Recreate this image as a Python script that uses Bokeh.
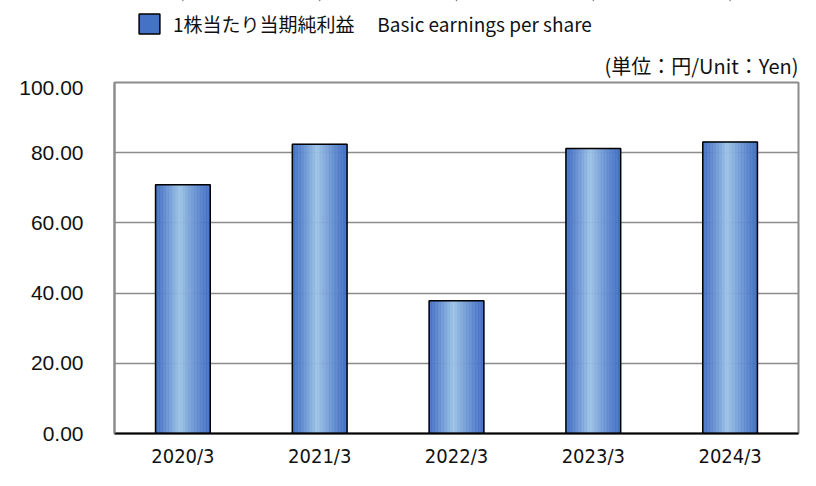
from bokeh.plotting import figure
from bokeh.layouts import column
from bokeh.models import (ColumnDataSource, FactorRange, Range1d, FixedTicker,
                          NumeralTickFormatter, Legend, LegendItem, Label)
from bokeh.transform import dodge
from bokeh.embed import file_html
from bokeh.resources import INLINE

# ---- data ----
categories = ["2020/3", "2021/3", "2022/3", "2023/3", "2024/3"]
eps_values = [70.85, 82.40, 37.80, 81.20, 83.05]
y_ticks = [0, 20, 40, 60, 80, 100]
legend_label = "1株当たり当期純利益\u2002\u2002\u2009Basic earnings per share"
unit_label = "(単位：円/Unit：Yen)"

src = ColumnDataSource(dict(cat=categories, val=eps_values))

W = 800
HEAD_H = 80
MAIN_H = 390
FRAME_L = 114
FRAME_R = 2

xr = FactorRange(*categories)

# ---- header figure (legend + unit), frame aligned with the chart below ----
head = figure(width=W, height=HEAD_H, x_range=xr, y_range=Range1d(-1000, -900),
              output_backend="svg", toolbar_location=None,
              x_axis_type=None, y_axis_type=None,
              min_border_left=FRAME_L, min_border_right=FRAME_R,
              min_border_top=0, min_border_bottom=0)
head.outline_line_color = None
head.xgrid.grid_line_color = None
head.ygrid.grid_line_color = None
head.background_fill_color = "white"
head.border_fill_color = "white"

# legend swatch renderer (hair-thin bars far outside this header's visible range)
swatch = head.vbar(x="cat", top="val", bottom="val", width=0.0005, source=src,
                   fill_color="#4472C4", line_color="black", line_width=1.5)
legend = Legend(items=[LegendItem(label=legend_label, renderers=[swatch])],
                location=(22, HEAD_H - 37), orientation="horizontal",
                glyph_width=26, glyph_height=25, label_height=25,
                label_standoff=11, padding=0, margin=0, spacing=0,
                border_line_color=None, background_fill_alpha=0,
                label_text_font="Noto Sans CJK JP", label_text_font_size="19px",
                label_text_color="#111111")
head.add_layout(legend, "center")
head.add_layout(Label(x=len(categories), y=1, x_units="data", y_units="screen",
                      text=unit_label, text_align="right", text_baseline="bottom",
                      text_font="Noto Sans CJK JP", text_font_size="20px",
                      text_color="#111111"))

# ---- main chart ----
p = figure(width=W, height=MAIN_H, x_range=xr, y_range=Range1d(0, 100),
           output_backend="svg", toolbar_location=None,
           min_border_left=FRAME_L, min_border_right=FRAME_R, min_border_top=2,
           min_border_bottom=30)
p.background_fill_color = "white"
p.border_fill_color = "white"
p.outline_line_color = "#8c8c8c"
p.outline_line_width = 2

BAR_W = 0.4
N = 36
dark = (68, 112, 196)
light = (158, 196, 230)
def col(t):
    peak = 0.45
    d = abs(t - peak) / (peak if t < peak else 1 - peak)
    k = (1 - d) ** 1.2
    r = [int(round(dark[j] + (light[j] - dark[j]) * k)) for j in range(3)]
    return "#%02x%02x%02x" % tuple(r)

sw = BAR_W / N
for i in range(N):
    t = (i + 0.5) / N
    off = -BAR_W / 2 + (i + 0.5) * sw
    c = col(t)
    p.vbar(x=dodge("cat", off, range=xr), top="val", bottom=0, width=sw,
           source=src, fill_color=c, line_color=c, line_width=0.6)

p.vbar(x="cat", top="val", bottom=0, width=BAR_W, source=src,
       fill_alpha=0, line_color="black", line_width=1.5)

p.xgrid.grid_line_color = None
p.ygrid.grid_line_color = "#8c8c8c"
p.ygrid.grid_line_width = 1.6
p.yaxis.ticker = FixedTicker(ticks=y_ticks)
p.yaxis.formatter = NumeralTickFormatter(format="0.00")
p.yaxis.major_tick_line_color = None
p.yaxis.minor_tick_line_color = None
p.yaxis.major_tick_out = 0
p.yaxis.minor_tick_out = 0
p.yaxis.axis_line_color = "#8c8c8c"
p.yaxis.axis_line_width = 2
p.yaxis.major_label_text_font = "Liberation Sans"
p.yaxis.major_label_text_font_size = "21px"
p.yaxis.major_label_text_color = "#111111"
p.yaxis.major_label_standoff = 31

p.xaxis.major_tick_line_color = None
p.xaxis.minor_tick_line_color = None
p.xaxis.major_tick_out = 0
p.xaxis.minor_tick_out = 0
p.xaxis.axis_line_color = "black"
p.xaxis.axis_line_width = 2
p.xaxis.major_label_text_font = "'Liberation Sans Narrow', 'DejaVu Sans Condensed', sans-serif"
p.xaxis.major_label_text_font_size = "20px"
p.xaxis.major_label_text_color = "#111111"
p.xaxis.major_label_standoff = 10

layout = column(head, p, spacing=0)
open("out.html", "w").write(file_html(layout, INLINE))
